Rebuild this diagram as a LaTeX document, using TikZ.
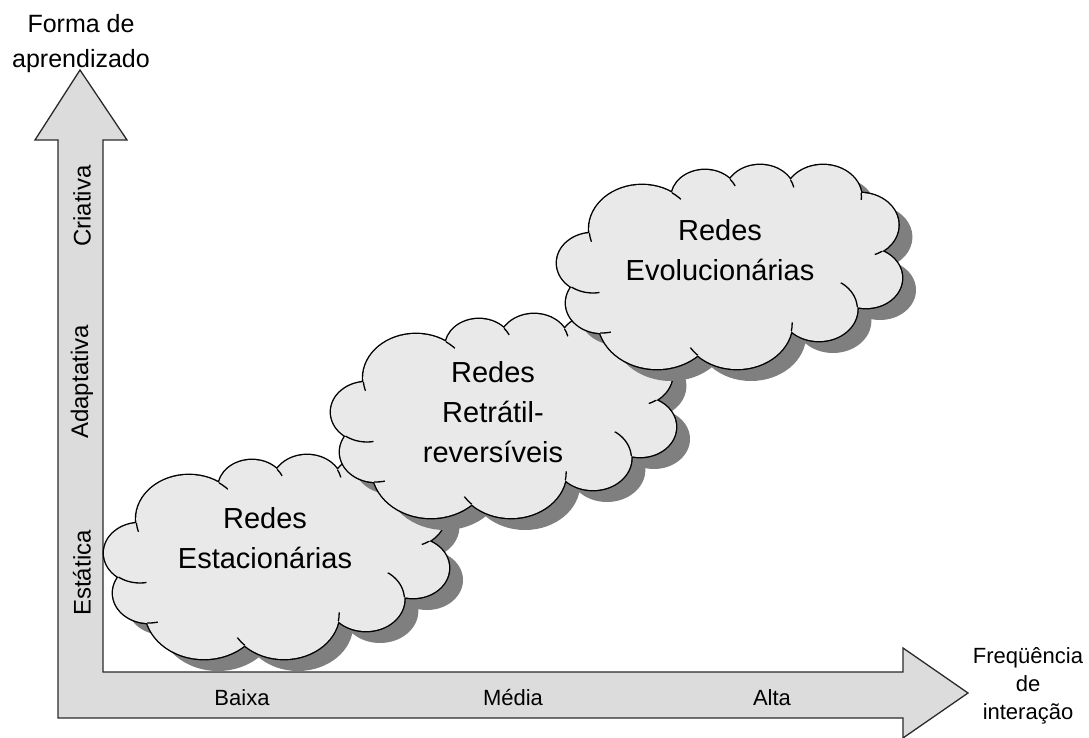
\documentclass[tikz,border=0pt]{standalone}
\usepackage{fontspec}
\setmainfont{Liberation Sans}
\definecolor{axisfill}{HTML}{DCDCDC}
\definecolor{cloudfill}{HTML}{E9E9E9}
\definecolor{shadowgray}{HTML}{7F7F7F}
\definecolor{edgegray}{HTML}{2A2A2A}

% Cloud lobes, drawn as circles in a frame that is later stretched 1.2 times
% horizontally, so that every lobe becomes a slightly flattened ellipse.
% Order: left, top-left, top (three), right (three), bottom (two), bottom-left.
\newcommand\cloudlobes{%
  (30,100) circle[radius=30]    (70.8,66) circle[radius=44]
  (123.3,35) circle[radius=28]  (169.2,31) circle[radius=29]
  (221.7,34) circle[radius=32]  (252.5,62) circle[radius=32]
  (257.5,115) circle[radius=30] (218.3,146) circle[radius=32]
  (150,160) circle[radius=46]   (83.3,157) circle[radius=49]
  (37.5,140) circle[radius=30]}
% polygon through the lobe centres, filling the middle of the cloud
\newcommand\cloudcore{%
  (30,100) -- (70.8,66) -- (123.3,35) -- (169.2,31) -- (221.7,34) -- (252.5,62)
  -- (257.5,115) -- (218.3,146) -- (150,160) -- (83.3,157) -- (37.5,140) -- cycle}

% Short inner arc where two neighbouring lobes meet.
% #1-#3: first lobe (x, y, r), #4-#6: next lobe clockwise,
% #7: 0 = first lobe runs on into the next one, 1 = the other way round,
% #8: length of the arc.
\newcommand\cloudstub[8]{%
  \pgfmathsetmacro\stubdx{#4-#1}%
  \pgfmathsetmacro\stubdy{#5-#2}%
  \pgfmathsetmacro\stubd{veclen(\stubdx,\stubdy)}%
  \pgfmathsetmacro\stuba{(#3-#6)*(#3+#6)/(2*\stubd)+\stubd/2}%
  \pgfmathsetmacro\stubh{sqrt((#3-\stuba)*(#3+\stuba))}%
  \pgfmathsetmacro\stubjx{#1+(\stuba*\stubdx+\stubh*\stubdy)/\stubd}%
  \pgfmathsetmacro\stubjy{#2+(\stuba*\stubdy-\stubh*\stubdx)/\stubd}%
  \begin{scope}
    \clip (\stubjx,\stubjy) circle[radius=#8];
    \ifnum#7=0
      \clip (#4,#5) circle[radius=#6];
      \draw (#1,#2) circle[radius=#3];
    \else
      \clip (#1,#2) circle[radius=#3];
      \draw (#4,#5) circle[radius=#6];
    \fi
  \end{scope}}

\tikzset{
  cloudpic/.pic={
    % drop shadow
    \begin{scope}[shift={(14,12)}, xscale=1.2]
      \fill[shadowgray] \cloudlobes;
      \fill[shadowgray] \cloudcore;
    \end{scope}
    \begin{scope}[xscale=1.2]
      % outline: thick strokes whose inner halves get covered by the fill
      \draw[black, line width=2.8pt] \cloudlobes;
      \fill[cloudfill] \cloudlobes;
      \fill[cloudfill] \cloudcore;
      \begin{scope}[black, line width=1.3pt]
        \cloudstub{37.5}{140}{30}{30}{100}{30}{1}{24}
        \cloudstub{30}{100}{30}{70.8}{66}{44}{1}{9}
        \cloudstub{70.8}{66}{44}{123.3}{35}{28}{0}{10}
        \cloudstub{123.3}{35}{28}{169.2}{31}{29}{0}{8}
        \cloudstub{169.2}{31}{29}{221.7}{34}{32}{0}{8}
        \cloudstub{221.7}{34}{32}{252.5}{62}{32}{0}{7}
        \cloudstub{252.5}{62}{32}{257.5}{115}{30}{0}{7}
        \cloudstub{257.5}{115}{30}{218.3}{146}{32}{1}{28}
        \cloudstub{218.3}{146}{32}{150}{160}{46}{1}{9}
        \cloudstub{150}{160}{46}{83.3}{157}{49}{0}{10}
        \cloudstub{83.3}{157}{49}{37.5}{140}{30}{1}{9}
      \end{scope}
    \end{scope}
  },
  cloudtext/.style={align=center, font=\fontsize{29}{40}\selectfont},
  axistext/.style={align=center, font=\fontsize{25}{35}\selectfont},
  ticktext/.style={font=\fontsize{22}{26}\selectfont},
  sidetext/.style={font=\fontsize{24}{28}\selectfont, rotate=90}
}

\begin{document}
\begin{tikzpicture}[x=1pt,y=-1pt]
\useasboundingbox (0,0) rectangle (1089,738);

% L-shaped double arrow forming both axes
\draw[fill=axisfill, draw=edgegray, line width=1.3pt, line join=miter]
  (80,70) -- (127,140) -- (103,140) -- (103,672) -- (903,672) -- (903,648)
  -- (968,693) -- (903,738) -- (903,718) -- (58,718) -- (58,140) -- (35,140) -- cycle;

% axis titles
\node[axistext] (ytitle) at (81,44) {Forma de\\aprendizado};
\node[align=center, font=\fontsize{22}{28}\selectfont] (xtitle) at (1028,686) {Freqüência\\de\\interação};

% ticks on the vertical axis
\node[sidetext] (estatica) at (82,573) {Estática};
\node[sidetext] (adaptativa) at (82,382) {Adaptativa};
\node[sidetext] (criativa) at (82,206) {Criativa};

% ticks on the horizontal axis
\node[ticktext] (baixa) at (242,698) {Baixa};
\node[ticktext] (media) at (513,698) {Média};
\node[ticktext] (alta) at (772,698) {Alta};

% the three clouds, each placed by its top-left corner
\path (104,453) pic {cloudpic};
\node[cloudtext] (t1) at (265,538) {Redes\\Estacionárias};
\path (331,312) pic {cloudpic};
\node[cloudtext] (t2) at (493,412) {Redes\\Retrátil-\\reversíveis};
\path (557,163) pic {cloudpic};
\node[cloudtext] (t3) at (720,250) {Redes\\Evolucionárias};
\end{tikzpicture}
\end{document}
